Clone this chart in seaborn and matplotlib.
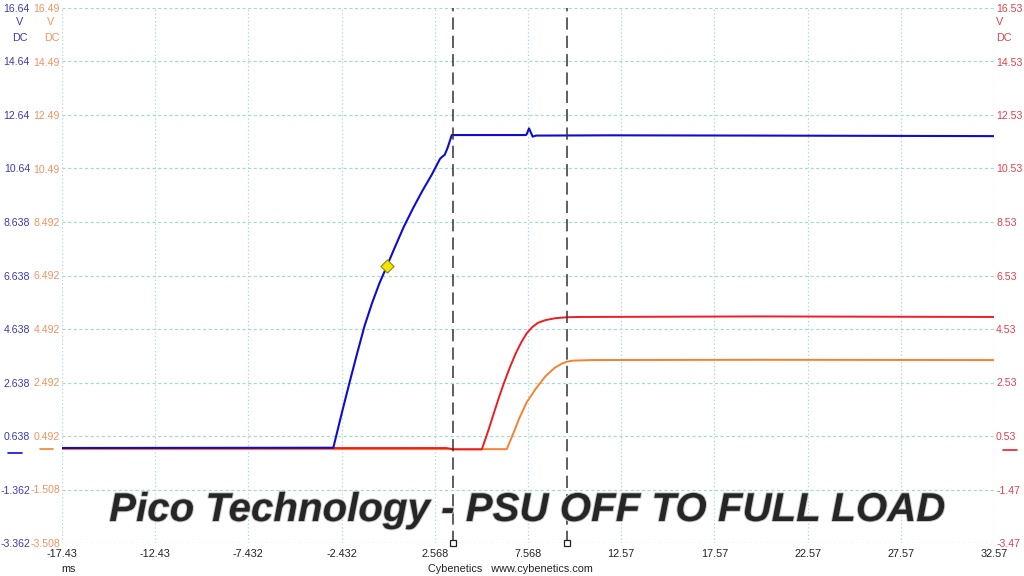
import matplotlib.pyplot as plt
import matplotlib.patheffects as pe
import matplotlib.transforms as mtransforms
import seaborn as sns
import pandas as pd

sns.set_style("white")
plt.rcParams['font.family'] = ['Liberation Sans', 'DejaVu Sans']

# time axis (ms)
x_ticks = [-17.43, -12.43, -7.432, -2.432, 2.568, 7.568, 12.57, 17.57, 22.57, 27.57, 32.57]
x_labels = ['-17.43', '-12.43', '-7.432', '-2.432', '2.568', '7.568', '12.57', '17.57', '22.57', '27.57', '32.57']

# per-channel vertical scales (V)
blue_ticks = [16.64, 14.64, 12.64, 10.64, 8.638, 6.638, 4.638, 2.638, 0.638, -1.362, -3.362]
orange_ticks = [16.49, 14.49, 12.49, 10.49, 8.492, 6.492, 4.492, 2.492, 0.492, -1.508, -3.508]
red_ticks = [16.53, 14.53, 12.53, 10.53, 8.53, 6.53, 4.53, 2.53, 0.53, -1.47, -3.47]

# traces: time (ms), voltage (V)
blue_t = [-17.43, -2.875, -2.4, -2.0, -1.6, -1.2, -0.8, -0.4, 0.0, 0.4, 0.9, 1.4, 1.9,
          2.4, 2.7, 2.85, 2.95, 3.1, 3.25, 3.48, 5.0, 7.45, 7.50, 7.625, 7.82, 8.0,
          12.0, 20.0, 32.57]
blue_v = [0.19, 0.20, 1.55, 2.65, 3.72, 4.75, 5.6, 6.35, 6.99, 7.65, 8.45, 9.15, 9.8,
          10.4, 10.8, 11.0, 11.07, 11.15, 11.4, 11.89, 11.89, 11.89, 11.92, 12.14, 11.83, 11.87,
          11.88, 11.87, 11.85]

red_t = [-17.43, 3.2, 3.6, 5.09, 5.4, 5.7, 6.0, 6.3, 6.6, 6.9, 7.2, 7.5, 7.8, 8.1,
         8.5, 9.0, 9.65, 10.36, 20.0, 32.57]
red_v = [0.08, 0.08, 0.03, 0.03, 0.65, 1.3, 1.95, 2.55, 3.1, 3.6, 4.02, 4.37, 4.6, 4.76,
         4.86, 4.93, 4.97, 4.98, 5.0, 4.98]

orange_t = [-17.43, 6.43, 6.6, 6.8, 7.1, 7.5, 8.0, 8.5, 9.0, 9.4, 9.66, 10.0, 11.0, 20.0, 32.57]
orange_v = [0.0, 0.0, 0.28, 0.62, 1.15, 1.75, 2.27, 2.72, 3.04, 3.2, 3.27, 3.31, 3.33, 3.34, 3.33]

cursor_t = [3.546, 9.663]
trigger_t, trigger_v = 0.0, 6.99

blue_df = pd.DataFrame({'t': blue_t, 'v': blue_v})
red_df = pd.DataFrame({'t': red_t, 'v': red_v})
orange_df = pd.DataFrame({'t': orange_t, 'v': orange_v})

BLUE, BLUE_TXT = '#0d0dd2', '#3a3ab4'
ORANGE, ORANGE_TXT = '#f5822f', '#ef9260'
RED, RED_TXT = '#ee1c24', '#e2404a'
GRID = '#a9d6dc'

fig = plt.figure(figsize=(10.24, 5.76), dpi=100)
ax = fig.add_axes([62 / 1024, 1 - 543 / 576, 932 / 1024, 535 / 576])
ax_o = ax.twinx()
ax_r = ax.twinx()
ax_b = ax.twinx()

sns.lineplot(data=orange_df, x='t', y='v', ax=ax_o, color=ORANGE, lw=1.4, estimator=None, sort=False)
sns.lineplot(data=red_df, x='t', y='v', ax=ax_r, color=RED, lw=1.4, estimator=None, sort=False)
sns.lineplot(data=blue_df, x='t', y='v', ax=ax_b, color=BLUE, lw=1.5, estimator=None, sort=False)

# main axis: grid, time labels, blue scale
ax.set_xlim(x_ticks[0], x_ticks[-1])
ax.set_ylim(blue_ticks[-1], blue_ticks[0])
ax.set_xticks(x_ticks, labels=x_labels)
ax.set_yticks(blue_ticks, labels=[str(v) for v in blue_ticks])
ax.tick_params(axis='x', length=0, pad=4, labelsize=7.8, labelcolor='#222222')
ax.tick_params(axis='y', length=0, pad=23, labelsize=7.6, labelcolor=BLUE_TXT)
ax.grid(axis='x', color=GRID, ls=(0, (1, 2)), lw=0.9)
ax.grid(axis='y', color=GRID, ls=(0, (2.5, 2)), lw=0.9)

ax_o.set_ylim(orange_ticks[-1], orange_ticks[0])
ax_o.yaxis.tick_left()
ax_o.set_yticks(orange_ticks, labels=[str(v) for v in orange_ticks])
ax_o.tick_params(axis='y', length=0, pad=1.5, labelsize=7.6, labelcolor=ORANGE_TXT)

ax_r.set_ylim(red_ticks[-1], red_ticks[0])
ax_r.set_yticks(red_ticks, labels=[str(v) for v in red_ticks])
ax_r.tick_params(axis='y', length=0, pad=1.5, labelsize=7.6, labelcolor=RED_TXT)

ax_b.set_ylim(blue_ticks[-1], blue_ticks[0])
ax_b.set_yticks([])

for a in (ax, ax_o, ax_r, ax_b):
    a.set_xlabel('')
    a.set_ylabel('')
    for s in a.spines.values():
        s.set_visible(False)

# cursors
for t in cursor_t:
    ax_b.axvline(t, color='#333333', ls=(0, (8, 4)), lw=1.1)
    ax_b.plot([t], [blue_ticks[-1]], marker='s', ms=5, mfc='white', mec='#222222',
              mew=0.9, clip_on=False, zorder=6)

# trigger point
ax_b.scatter([trigger_t], [trigger_v], marker='D', s=45, color='#f2e400',
             edgecolor='#8c8a10', linewidth=0.8, zorder=7)

# ground level markers
for a, col, x0, x1 in [(ax_b, BLUE, -0.058, -0.043), (ax_o, ORANGE, -0.0236, -0.0097),
                       (ax_r, RED, 1.0097, 1.0247)]:
    tr = mtransforms.blended_transform_factory(a.transAxes, a.transData)
    a.plot([x0, x1], [0, 0], color=col, lw=1.2, transform=tr, clip_on=False)

# unit labels
fs = 7.8
fig.text(20 / 1024, 1 - 22 / 576, 'V', color=BLUE_TXT, fontsize=fs, ha='center', va='center')
fig.text(20 / 1024, 1 - 38 / 576, 'DC', color=BLUE_TXT, fontsize=fs, ha='center', va='center')
fig.text(51 / 1024, 1 - 22 / 576, 'V', color=ORANGE_TXT, fontsize=fs, ha='center', va='center')
fig.text(52 / 1024, 1 - 38 / 576, 'DC', color=ORANGE_TXT, fontsize=fs, ha='center', va='center')
fig.text(996 / 1024, 1 - 22 / 576, 'V', color=RED_TXT, fontsize=fs, ha='left', va='center')
fig.text(996 / 1024, 1 - 38 / 576, 'DC', color=RED_TXT, fontsize=fs, ha='left', va='center')

fig.text(68 / 1024, 1 - 569 / 576, 'ms', color='#222222', fontsize=fs, ha='center', va='center')
fig.text(510 / 1024, 1 - 569 / 576, 'Cybenetics   www.cybenetics.com', color='#222222',
         fontsize=fs, ha='center', va='center')

fig.text(527 / 1024, 1 - 510 / 576, 'Pico Technology - PSU OFF TO FULL LOAD',
         fontsize=29, fontweight='bold', style='italic', color='#262626',
         ha='center', va='center',
         path_effects=[pe.withStroke(linewidth=1.4, foreground='#c8c8c8')])

fig.savefig('out.png', dpi=100, facecolor='white')
